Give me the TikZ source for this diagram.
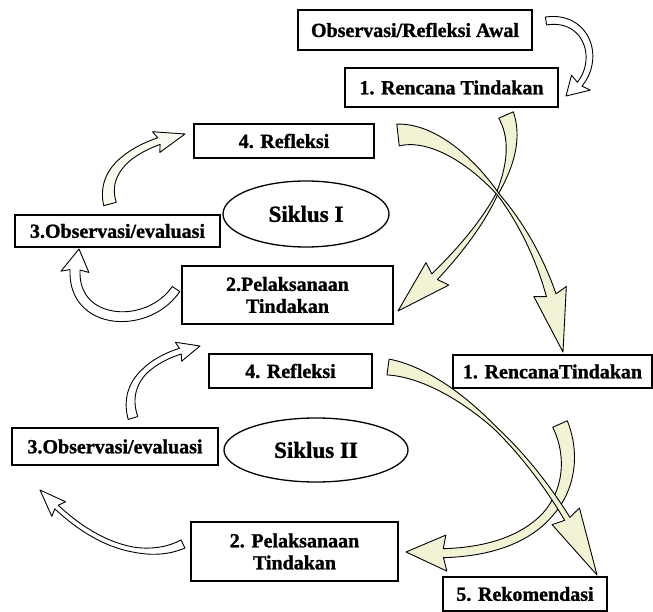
\documentclass[tikz,border=0pt]{standalone}
\usepackage{fontspec}
\setmainfont[BoldFeatures={FakeBold=1.2}]{Liberation Serif}
\usetikzlibrary{shapes.geometric}
\definecolor{cream}{RGB}{242,242,212}
\definecolor{paleyel}{RGB}{250,250,238}
\makeatletter
\def\ba@pts#1,#2,#3,#4,#5,#6,#7,#8\relax{\def\xa{#1}\def\ya{#2}\def\xb{#3}\def\yb{#4}\def\xc{#5}\def\yc{#6}\def\xd{#7}\def\yd{#8}}
\def\ba@wid#1,#2,#3,#4\relax{\def\bwa{#1}\def\btm{#2}\def\bwm{#3}\def\bwb{#4}}
\def\ba@head#1,#2,#3\relax{\def\bth{#1}\def\bhw{#2}\def\bhb{#3}}
\newcommand\blockarrow[4]{%
  \ba@pts#1\relax\ba@wid#2\relax\ba@head#3\relax
  \draw[barrow,fill=#4] plot[domain=0:\bth,samples=40,variable=\t] ({bx(\t)+nx(\t)*ww(\t)/2},{by(\t)+ny(\t)*ww(\t)/2})
   -- ({bx(\bth)+nx(\bth)*\bhw-tx(\bth)*\bhb},{by(\bth)+ny(\bth)*\bhw-ty(\bth)*\bhb})
   -- (\xd,\yd)
   -- ({bx(\bth)-nx(\bth)*\bhw-tx(\bth)*\bhb},{by(\bth)-ny(\bth)*\bhw-ty(\bth)*\bhb})
   -- plot[domain=\bth:0,samples=40,variable=\t] ({bx(\t)-nx(\t)*ww(\t)/2},{by(\t)-ny(\t)*ww(\t)/2})
   -- cycle;}
\makeatother
\begin{document}
\begin{tikzpicture}[x=1pt,y=-1pt,
  declare function={
    bx(\s)=(1-\s)*(1-\s)*(1-\s)*\xa+3*(1-\s)*(1-\s)*\s*\xb+3*(1-\s)*\s*\s*\xc+\s*\s*\s*\xd;
    by(\s)=(1-\s)*(1-\s)*(1-\s)*\ya+3*(1-\s)*(1-\s)*\s*\yb+3*(1-\s)*\s*\s*\yc+\s*\s*\s*\yd;
    dxx(\s)=(3*(1-\s)*(1-\s)*(\xb-\xa)+6*(1-\s)*\s*(\xc-\xb)+3*\s*\s*(\xd-\xc))/100;
    dyy(\s)=(3*(1-\s)*(1-\s)*(\yb-\ya)+6*(1-\s)*\s*(\yc-\yb)+3*\s*\s*(\yd-\yc))/100;
    dl(\s)=sqrt(dxx(\s)*dxx(\s)+dyy(\s)*dyy(\s));
    tx(\s)=dxx(\s)/dl(\s);
    ty(\s)=dyy(\s)/dl(\s);
    nx(\s)=-ty(\s);
    ny(\s)=tx(\s);
    ww(\s)=(\s<\btm)?(\bwa+(\bwm-\bwa)*\s/\btm):(\bwm+(\bwb-\bwm)*(\s-\btm)/(\bth-\btm));
  },
  box/.style={draw,line width=1.5pt,inner sep=0pt,align=center,fill=white,
    font=\fontsize{20}{22}\selectfont\bfseries},
  oval/.style={draw,ellipse,line width=1.3pt,inner sep=0pt,
    font=\fontsize{23}{25}\selectfont\bfseries},
  barrow/.style={draw=black,line width=0.9pt,line join=round}]
\useasboundingbox (0,0) rectangle (653,612);

% ---- block arrows (drawn first) ----
% start -> Rencana 1
\blockarrow{546,21,592,14,606,72,566,96}{8,0.5,7,6}{0.86,12,2}{white}
% cycle I: Observasi -> Refleksi
\blockarrow{110,204,100,166,140,143,185,134}{13,0.5,8,7}{0.8,11,3}{paleyel}
% cycle I: Pelaksanaan -> Observasi
\blockarrow{176,289,145,335,55,325,79,249}{9,0.5,10,10}{0.9,14,2}{white}
% Rencana 1 -> Pelaksanaan
\blockarrow{506,115,528,165,480,240,398,311}{16,0.45,2,8}{0.84,16,4}{cream}
% Refleksi -> Rencana 2
\blockarrow{398,135,460,128,550,230,563,352}{22,0.5,2,10}{0.84,17,4}{cream}
% cycle II: Observasi -> Refleksi
\blockarrow{133,418,122,382,150,356,200,346}{10,0.5,6,6}{0.86,10,2}{white}
% cycle II: Pelaksanaan -> Observasi
\blockarrow{183,544,150,560,95,552,40,490}{9,0.4,5,5}{0.9,10,3}{white}
% cycle II: right -> Pelaksanaan
\blockarrow{560,424,585,480,555,565,406,552}{16,0.5,9,9}{0.91,18,3}{cream}
% Refleksi -> Rekomendasi
\blockarrow{388,367,450,375,540,450,597,575}{16,0.5,3,6}{0.84,16,3}{cream}

% ---- boxes ----
\node[box,minimum width=234pt,minimum height=40pt] (obs0) at (415,30) {Observasi/Refleksi Awal};
\node[box,minimum width=213pt,minimum height=39pt] (ren1) at (451.5,87.5) {1. Rencana Tindakan};
\node[box,minimum width=180pt,minimum height=34pt] (ref1) at (284,141) {4. Refleksi};
\node[box,minimum width=205pt,minimum height=32pt] (obs1) at (117.5,231) {3.Observasi/evaluasi};
\node[oval,minimum width=166pt,minimum height=66pt] (sik1) at (306,214) {Siklus I};
\node[box,minimum width=211pt,minimum height=58pt] (pel1) at (287.5,295) {2.Pelaksanaan\\Tindakan};

\node[box,minimum width=199pt,minimum height=33pt] (ren2) at (552.5,371.5) {1. RencanaTindakan};
\node[box,minimum width=163pt,minimum height=34pt] (ref2) at (290.5,371) {4. Refleksi};
\node[box,minimum width=206pt,minimum height=37pt] (obs2) at (115,446.5) {3.Observasi/evaluasi};
\node[oval,minimum width=184pt,minimum height=64pt] (sik2) at (316,450) {Siklus II};
\node[box,minimum width=207pt,minimum height=59pt] (pel2) at (294.5,551.5) {2. Pelaksanaan\\Tindakan};
\node[box,minimum width=164pt,minimum height=34pt] (rek) at (525,594) {5. Rekomendasi};
\end{tikzpicture}
\end{document}
